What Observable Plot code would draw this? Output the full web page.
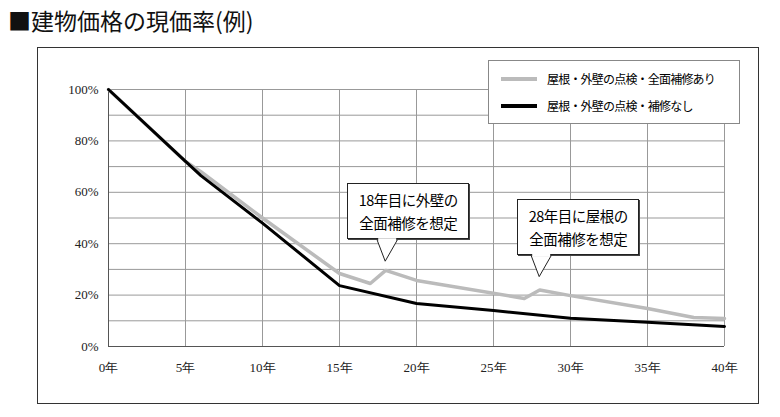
<!DOCTYPE html>
<html><head><meta charset="utf-8">
<script src="https://cdn.jsdelivr.net/npm/d3@7"></script>
<script src="https://cdn.jsdelivr.net/npm/@observablehq/plot@0.6"></script>
<style>
body{margin:0;background:#fff;font-family:"Noto Sans CJK JP",sans-serif;}
#title{height:47px;font-size:23px;line-height:40px;padding-left:8px;color:#111;}
#wrap{position:relative;width:780px;height:360px;}
#box{position:absolute;left:37px;top:0;width:722px;height:357px;border:1px solid #333;box-sizing:border-box;}
.call{position:absolute;background:#fff;border:1px solid #222;font-size:14.5px;line-height:23px;text-align:center;padding:4px 6px;box-shadow:1px 1px 0 #444;white-space:nowrap;letter-spacing:-0.5px;}
#legend{position:absolute;left:488px;top:13px;width:250px;height:62px;background:#fff;border:1px solid #888;font-size:12px;}
.li{position:absolute;left:12px;display:flex;align-items:center;white-space:nowrap;letter-spacing:-0.8px;}
.li span{display:inline-block;width:36px;height:4px;margin-right:10px;}
</style></head><body>
<div id="title">■建物価格の現価率(例)</div>
<div id="wrap"><div id="box"></div><div id="chart"></div></div>
<script>
const withRepair = [[0,1.0],[5,0.72],[6,0.68],[10,0.50],[15,0.284],[17,0.245],[18,0.296],[20,0.257],[27,0.187],[28,0.22],[30,0.198],[35,0.148],[38,0.113],[40,0.109]];
const noRepair = [[0,1.0],[5,0.72],[6,0.665],[10,0.48],[15,0.237],[20,0.167],[25,0.14],[30,0.11],[35,0.094],[40,0.078]];
const xTicks = [0,5,10,15,20,25,30,35,40];
const yTicks = [0,0.2,0.4,0.6,0.8,1.0];
const gridY = [0.1,0.2,0.3,0.4,0.5,0.6,0.7,0.8,0.9,1.0];
const seriesNames = ["屋根・外壁の点検・全面補修あり","屋根・外壁の点検・補修なし"];
const calls = [["18年目に外壁の","全面補修を想定",18,0.33],["28年目に屋根の","全面補修を想定",28,0.27]];

const ch = Plot.plot({
  width:780,height:360,marginLeft:108,marginRight:56,marginTop:42,marginBottom:61,
  style:{fontFamily:"'Liberation Serif',serif",fontSize:"13px",color:"#222"},
  x:{domain:[0,40],label:null},
  y:{domain:[0,1],label:null},
  marks:[
    Plot.gridX(xTicks.slice(1),{stroke:"#999",strokeOpacity:1,strokeWidth:1}),
    Plot.gridY(gridY,{stroke:"#999",strokeOpacity:1,strokeWidth:1}),
    Plot.axisX({ticks:xTicks,tickFormat:d=>d+"年",tickSize:0,tickPadding:16,fontSize:13}),
    Plot.axisY({ticks:yTicks,tickFormat:d=>Math.round(d*100)+"%",tickSize:0,tickPadding:10,fontSize:13}),
    Plot.ruleX([0],{stroke:"#555"}),
    Plot.ruleY([0],{stroke:"#555"}),
    Plot.line(withRepair,{x:d=>d[0],y:d=>d[1],stroke:"#bbb",strokeWidth:3.5}),
    Plot.line(noRepair,{x:d=>d[0],y:d=>d[1],stroke:"#000",strokeWidth:3})
  ]
});
document.getElementById("chart").appendChild(ch);
const wrap = document.getElementById("wrap");
const sx = ch.scale("x"), sy = ch.scale("y");
const lg = document.createElement("div"); lg.id="legend";
lg.innerHTML = `<div class="li" style="top:9px"><span style="background:#bbb"></span>${seriesNames[0]}</div><div class="li" style="top:36px"><span style="background:#000"></span>${seriesNames[1]}</div>`;
wrap.appendChild(lg);
const ns="http://www.w3.org/2000/svg";
calls.forEach(([a,b,x,y])=>{
  const px=sx.apply(x), py=sy.apply(y);
  const d=document.createElement("div"); d.className="call";
  d.innerHTML=a+"<br>"+b;
  const w=122,h=56;
  const left = x===18? px-38 : px-22, top = py-h-22;
  d.style.left=left+"px"; d.style.top=top+"px"; d.style.width=(w-14)+"px";
  wrap.appendChild(d);
  const svg=document.createElementNS(ns,"svg");
  svg.setAttribute("width",780);svg.setAttribute("height",360);
  svg.style.position="absolute";svg.style.left=0;svg.style.top=0;
  const p=document.createElementNS(ns,"path");
  const by=top+h+1;
  p.setAttribute("d",`M${px-8},${by} L${px},${py} L${px+12},${by} Z`);
  p.setAttribute("fill","#fff");p.setAttribute("stroke","#222");
  svg.appendChild(p);
  const c=document.createElementNS(ns,"rect");
  c.setAttribute("x",px-7);c.setAttribute("y",by-2);c.setAttribute("width",18);c.setAttribute("height",3);c.setAttribute("fill","#fff");
  svg.appendChild(c);
  wrap.appendChild(svg);
});
</script></body></html>
